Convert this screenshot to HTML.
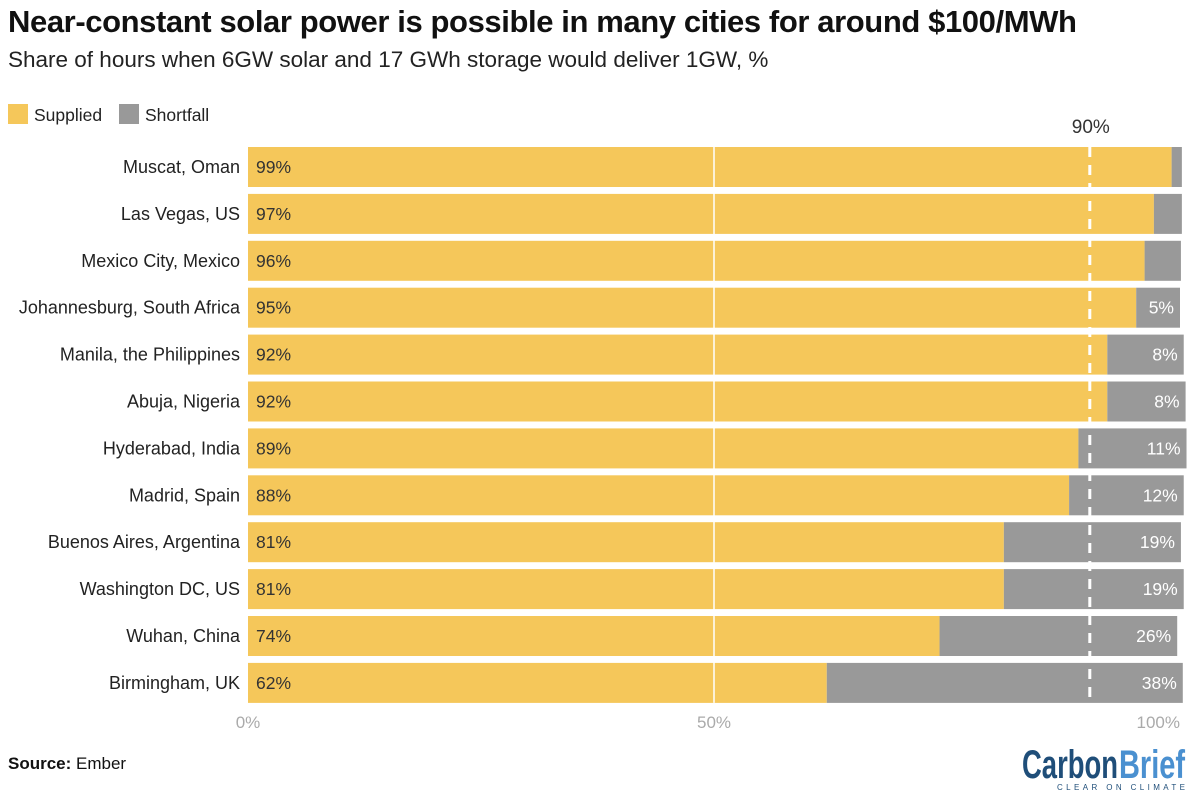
<!DOCTYPE html>
<html><head><meta charset="utf-8"><style>
body{margin:0;background:#fff;width:1200px;height:801px;overflow:hidden;font-family:"Liberation Sans",sans-serif;}
#t{position:absolute;left:8px;top:4px;font-size:31px;font-weight:bold;color:#111;letter-spacing:-0.4px}
#s{position:absolute;left:8px;top:47px;font-size:22.5px;color:#222}
#src{position:absolute;left:8px;top:754px;font-size:17px;color:#111}
</style></head><body>
<div id="t">Near-constant solar power is possible in many cities for around $100/MWh</div>
<div id="s">Share of hours when 6GW solar and 17 GWh storage would deliver 1GW, %</div>
<div id="src"><b>Source:</b> Ember</div>
<svg id="c" width="1200" height="801" style="position:absolute;left:0;top:0"></svg>
<script>
const cities=["Muscat, Oman","Las Vegas, US","Mexico City, Mexico","Johannesburg, South Africa","Manila, the Philippines","Abuja, Nigeria","Hyderabad, India","Madrid, Spain","Buenos Aires, Argentina","Washington DC, US","Wuhan, China","Birmingham, UK"];
const supplied=[99.1,97.2,96.2,95.3,92.2,92.2,89.1,88.1,81.1,81.1,74.2,62.1];
const shortfall=[1.1,3.0,3.9,4.7,8.2,8.4,11.6,12.3,19.0,19.3,25.5,38.2];
const suppliedLabels=["99%","97%","96%","95%","92%","92%","89%","88%","81%","81%","74%","62%"];
const shortfallLabels=["","","","5%","8%","8%","11%","12%","19%","19%","26%","38%"];
const ticks=[0,50,100];
const refLine=90;
const NS="http://www.w3.org/2000/svg";
const svg=document.getElementById('c');
const x=v=>248+v*9.32;
const y=i=>147+i*46.9;
const bh=40;
function mk(tag,attrs,parent){const e=document.createElementNS(NS,tag);for(const k in attrs)e.setAttribute(k,attrs[k]);(parent||svg).appendChild(e);return e;}
let g=mk('g',{});


let r=mk('rect',{x:8,y:104,width:20,height:20,fill:'#f5c75a'},g);

let t=mk('text',{x:34,y:121,'font-size':17.5,fill:'#222'},g);t.textContent='Supplied';

r=mk('rect',{x:119,y:104,width:20,height:20,fill:'#999'},g);

t=mk('text',{x:145,y:121,'font-size':17.5,fill:'#222'},g);t.textContent='Shortfall';

cities.forEach((c,i)=>{
  const yy=y(i);
  let a=mk('rect',{x:x(0),y:yy,width:x(supplied[i])-x(0),height:bh,fill:'#f5c75a'});
  
  let b=mk('rect',{x:x(supplied[i]),y:yy,width:x(supplied[i]+shortfall[i])-x(supplied[i]),height:bh,fill:'#999'});
  
  let l=mk('text',{x:240,y:yy+bh/2+6,'font-size':18,fill:'#222','text-anchor':'end'});l.textContent=c;
  
  let v=mk('text',{x:x(0)+8,y:yy+bh/2+6,'font-size':17.5,fill:'#333'});v.textContent=suppliedLabels[i];
  
  if(shortfallLabels[i]){let w=mk('text',{x:x(supplied[i]+shortfall[i])-6,y:yy+bh/2+6,'font-size':17.5,fill:'#fff','text-anchor':'end'});w.textContent=shortfallLabels[i];
  }
});
let gl=mk('line',{x1:x(50),x2:x(50),y1:y(0),y2:y(11)+bh,stroke:'#fff','stroke-width':1.5});

let rl=mk('line',{x1:x(refLine)+3,x2:x(refLine)+3,y1:y(0),y2:y(11)+bh,stroke:'#fff','stroke-width':3,'stroke-dasharray':'10,8'});

let rt=mk('text',{x:x(refLine)+4,y:133,'font-size':19,fill:'#333','text-anchor':'middle'});rt.textContent=refLine+'%';

ticks.forEach((v,i)=>{
  let tt=mk('text',{x:x(v),y:728,'font-size':17,fill:'#aaa','text-anchor':i==0?'middle':(i==ticks.length-1?'end':'middle')});
  tt.textContent=v+'%';
  
});
let lg=mk('g',{});

let l1=mk('text',{x:1022,y:778,'font-size':40,'font-weight':'bold',fill:'#1f4e79','textLength':96,lengthAdjust:'spacingAndGlyphs'},lg);l1.textContent='Carbon';
let l2=mk('text',{x:1119,y:778,'font-size':40,'font-weight':'bold',fill:'#4a90d0','textLength':66,lengthAdjust:'spacingAndGlyphs'},lg);l2.textContent='Brief';
let l3=mk('text',{x:1057,y:790,'font-size':8,fill:'#1f4e79','textLength':128,lengthAdjust:'spacing'},lg);l3.textContent='CLEAR ON CLIMATE';
</script>
</body></html>
